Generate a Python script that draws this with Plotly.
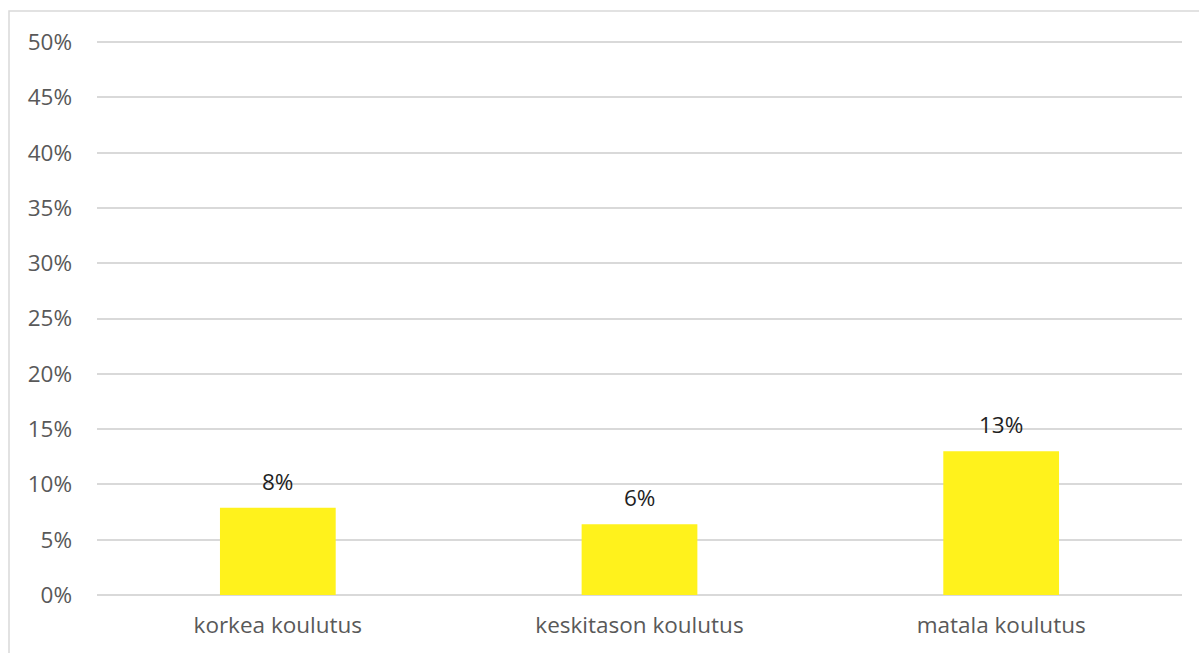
import plotly.graph_objects as go

# Share of respondents by education level
categories = ["korkea koulutus", "keskitason koulutus", "matala koulutus"]
shares = [0.079, 0.064, 0.13]

tick_vals = [0, 0.05, 0.10, 0.15, 0.20, 0.25, 0.30, 0.35, 0.40, 0.45, 0.50]
tick_text = ["0%", "5%", "10%", "15%", "20%", "25%", "30%", "35%", "40%", "45%", "50%"]

W, H = 1199, 653
ML, MR, MT, MB = 97, 17, 41, 58
FONT = "Open Sans"
FS = 22.5

fig = go.Figure(
    go.Bar(
        x=categories,
        y=shares,
        marker=dict(color="#FFF21C", line=dict(width=0)),
        hoverinfo="x+y",
    )
)

# value labels above each bar
for cat, val in zip(categories, shares):
    fig.add_annotation(
        x=cat, y=val, text=f"{val:.0%}", showarrow=False,
        yanchor="bottom", yshift=9,
        font=dict(family=FONT, size=FS, color="#1f1f1f"),
    )

pw = W - ML - MR
ph = H - MT - MB
# chart frame (continues past the right and bottom edges)
fig.add_shape(
    type="rect", xref="paper", yref="paper",
    x0=(9 - ML) / pw, x1=(W + 20 - ML) / pw,
    y0=-(H + 20 - MT - ph) / ph, y1=(H - 11 - MB) / ph,
    line=dict(color="#d9d9d9", width=1.5), fillcolor="rgba(0,0,0,0)",
    layer="below",
)

fig.update_layout(
    width=W, height=H,
    margin=dict(l=ML, r=MR, t=MT, b=MB),
    paper_bgcolor="white", plot_bgcolor="white",
    bargap=0.68,
    showlegend=False,
    font=dict(family=FONT, size=FS, color="#595959"),
    xaxis=dict(
        showgrid=False, showline=False, ticks="", ticklabelstandoff=14,
        tickfont=dict(family=FONT, size=FS, color="#595959"),
    ),
    yaxis=dict(
        range=[0, 0.501], tickvals=tick_vals, ticktext=tick_text,
        showgrid=True, gridcolor="#d9d9d9", gridwidth=1.5,
        zeroline=True, zerolinecolor="#d9d9d9", zerolinewidth=1.5,
        showline=False, ticks="", ticklabelstandoff=24,
        tickfont=dict(family=FONT, size=FS, color="#595959"),
    ),
)

fig.write_html("out.html")
